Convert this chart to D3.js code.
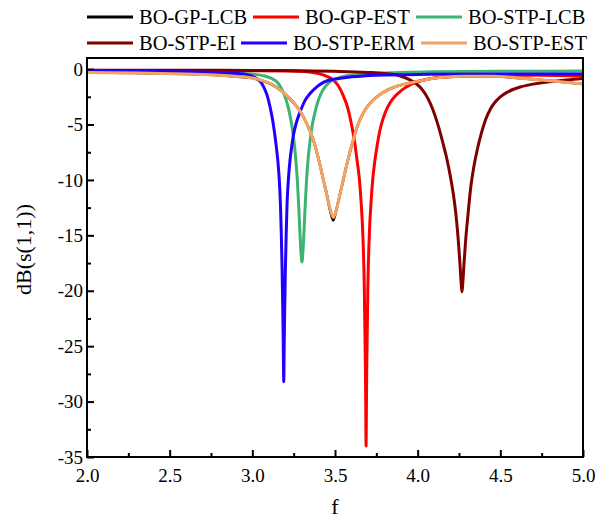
<!DOCTYPE html>
<html>
<head>
<meta charset="utf-8">
<script src="https://cdn.jsdelivr.net/npm/d3@7"></script>
<style>
  html, body { margin: 0; padding: 0; background: #fff; }
  svg { display: block; }
  svg text { font-family: "Liberation Serif", "Times New Roman", "DejaVu Serif", serif; }
</style>
</head>
<body>
<svg id="chart" width="596" height="522"></svg>
<script>
// ---- data (f, dB) ----
const seriesNames = ["BO-GP-LCB", "BO-GP-EST", "BO-STP-LCB", "BO-STP-EI", "BO-STP-ERM", "BO-STP-EST"];
const seriesColors = ["#000000", "#ff0000", "#3cb371", "#800000", "#2200ff", "#f4a460"];

const gpLcb = [[2.0,-0.3],[2.3,-0.35],[2.6,-0.45],[2.8,-0.55],[2.93,-0.7],[3.0,-0.8],[3.05,-1.0],[3.107,-1.3],[3.17,-1.9],[3.228,-2.7],[3.27,-3.4],[3.309,-4.3],[3.34,-5.3],[3.369,-6.4],[3.39,-7.5],[3.41,-8.7],[3.43,-10.0],[3.45,-11.3],[3.465,-12.4],[3.48,-13.3],[3.489,-13.65],[3.498,-13.3],[3.513,-12.4],[3.53,-11.3],[3.55,-10.0],[3.57,-8.7],[3.59,-7.5],[3.61,-6.4],[3.631,-5.35],[3.65,-4.6],[3.67,-4.0],[3.69,-3.5],[3.712,-3.1],[3.75,-2.55],[3.792,-2.1],[3.83,-1.8],[3.873,-1.55],[3.954,-1.25],[4.05,-0.95],[4.14,-0.75],[4.3,-0.65],[4.45,-0.65],[4.6,-0.8],[4.8,-1.05],[5.0,-1.35]];

const gpEst = [[2.0,-0.15],[2.5,-0.15],[3.0,-0.15],[3.2,-0.18],[3.33,-0.25],[3.40,-0.4],[3.45,-0.65],[3.49,-1.0],[3.52,-1.5],[3.55,-2.4],[3.575,-3.4],[3.59,-4.3],[3.605,-5.4],[3.621,-6.8],[3.634,-8.3],[3.648,-10.0],[3.658,-12.0],[3.668,-14.8],[3.677,-19.5],[3.684,-27.0],[3.686,-30.5],[3.688,-34.0],[3.690,-30.5],[3.692,-27.0],[3.699,-19.5],[3.708,-14.8],[3.718,-12.0],[3.728,-10.0],[3.74,-8.4],[3.755,-6.9],[3.772,-5.5],[3.79,-4.5],[3.81,-3.7],[3.835,-3.0],[3.863,-2.45],[3.9,-1.95],[3.934,-1.6],[3.97,-1.32],[4.01,-1.1],[4.07,-0.88],[4.15,-0.73],[4.3,-0.62],[4.5,-0.55],[4.75,-0.55],[5.0,-0.62]];

const stpLcb = [[2.0,-0.2],[2.5,-0.25],[2.8,-0.32],[3.0,-0.45],[3.08,-0.65],[3.13,-0.95],[3.16,-1.35],[3.181,-1.9],[3.205,-2.8],[3.221,-3.7],[3.238,-5.0],[3.251,-6.4],[3.262,-8.0],[3.272,-10.0],[3.28,-12.2],[3.288,-14.8],[3.294,-16.5],[3.30,-17.4],[3.306,-16.5],[3.312,-14.8],[3.32,-12.2],[3.328,-10.0],[3.338,-8.0],[3.349,-6.5],[3.362,-5.1],[3.379,-3.9],[3.395,-3.0],[3.419,-2.1],[3.44,-1.6],[3.47,-1.15],[3.52,-0.8],[3.6,-0.55],[3.8,-0.35],[4.1,-0.25],[4.5,-0.2],[5.0,-0.18]];

const stpEi = [[2.0,-0.1],[2.5,-0.1],[3.0,-0.12],[3.3,-0.15],[3.5,-0.2],[3.7,-0.3],[3.8,-0.4],[3.89,-0.6],[3.95,-0.95],[3.99,-1.3],[4.03,-1.9],[4.06,-2.6],[4.085,-3.4],[4.105,-4.2],[4.13,-5.4],[4.155,-6.8],[4.178,-8.2],[4.198,-9.7],[4.216,-11.3],[4.232,-13.2],[4.246,-15.5],[4.256,-17.6],[4.263,-19.3],[4.268,-20.1],[4.273,-19.3],[4.28,-17.6],[4.29,-15.5],[4.304,-13.2],[4.32,-10.8],[4.34,-8.8],[4.36,-7.3],[4.385,-5.8],[4.41,-4.6],[4.44,-3.6],[4.47,-2.95],[4.5,-2.5],[4.54,-2.1],[4.58,-1.82],[4.62,-1.62],[4.66,-1.47],[4.73,-1.28],[4.8,-1.14],[4.9,-0.98],[5.0,-0.85]];

const stpErm = [[2.0,-0.18],[2.3,-0.2],[2.6,-0.25],[2.8,-0.3],[2.9,-0.38],[2.97,-0.5],[3.02,-0.8],[3.05,-1.15],[3.07,-1.65],[3.09,-2.4],[3.107,-3.4],[3.125,-4.8],[3.145,-7.0],[3.155,-8.4],[3.163,-10.0],[3.17,-12.2],[3.175,-14.8],[3.18,-18.0],[3.184,-21.5],[3.187,-24.5],[3.19,-28.2],[3.193,-24.5],[3.196,-21.5],[3.20,-18.0],[3.205,-14.8],[3.21,-12.2],[3.218,-10.0],[3.228,-8.2],[3.238,-7.0],[3.248,-6.0],[3.265,-4.9],[3.288,-3.9],[3.32,-2.8],[3.349,-2.2],[3.39,-1.6],[3.43,-1.2],[3.5,-0.9],[3.6,-0.7],[3.75,-0.55],[4.0,-0.48],[4.5,-0.45],[5.0,-0.45]];

const stpEst = [[2.0,-0.3],[2.3,-0.35],[2.6,-0.45],[2.8,-0.55],[2.93,-0.7],[3.0,-0.8],[3.05,-1.0],[3.107,-1.3],[3.17,-1.9],[3.228,-2.7],[3.27,-3.4],[3.309,-4.3],[3.34,-5.3],[3.369,-6.4],[3.39,-7.5],[3.41,-8.7],[3.43,-10.0],[3.45,-11.3],[3.465,-12.3],[3.48,-13.1],[3.49,-13.4],[3.50,-13.1],[3.515,-12.3],[3.53,-11.3],[3.55,-10.0],[3.57,-8.7],[3.59,-7.5],[3.61,-6.4],[3.631,-5.35],[3.65,-4.6],[3.67,-4.0],[3.69,-3.5],[3.712,-3.1],[3.75,-2.55],[3.792,-2.1],[3.83,-1.8],[3.873,-1.55],[3.954,-1.25],[4.05,-0.95],[4.14,-0.75],[4.3,-0.65],[4.45,-0.65],[4.6,-0.8],[4.8,-1.05],[5.0,-1.35]];

const seriesData = [gpLcb, gpEst, stpLcb, stpEi, stpErm, stpEst];

const xTicks = [2.0, 2.5, 3.0, 3.5, 4.0, 4.5, 5.0];
const yTicks = [0, -5, -10, -15, -20, -25, -30, -35];

// ---- layout ----
const W = 596, H = 522;
const m = { left: 87, right: 13, top: 58, bottom: 65 };
const FONT = "'Liberation Serif', 'Times New Roman', 'DejaVu Serif', serif";
const svg = d3.select("#chart");

const x = d3.scaleLinear().domain([2.0, 5.0]).range([m.left, W - m.right]);
const y = d3.scaleLinear().domain([-35, 1]).range([H - m.bottom, m.top]);

svg.append("defs").append("clipPath").attr("id", "plotclip")
  .append("rect").attr("x", m.left).attr("y", m.top)
  .attr("width", x.range()[1] - m.left).attr("height", y.range()[0] - m.top);

// curves
const line = d3.line().x(d => x(d[0])).y(d => y(d[1])).curve(d3.curveMonotoneX);
const g = svg.append("g").attr("clip-path", "url(#plotclip)");
seriesData.forEach((s, i) => {
  g.append("path").datum(s)
    .attr("d", line)
    .attr("fill", "none")
    .attr("stroke", seriesColors[i])
    .attr("stroke-width", i === 0 ? 2.6 : 3)
    .attr("stroke-linejoin", "round");
});

// axes (ticks inward)
const xAxis = d3.axisBottom(x).tickValues(xTicks).tickFormat(d3.format(".1f")).tickSizeInner(-7).tickSizeOuter(0).tickPadding(12);
const xMinor = d3.axisBottom(x).tickValues(d3.range(2.25, 5, 0.5)).tickFormat("").tickSizeInner(-4).tickSizeOuter(0);
const yAxis = d3.axisLeft(y).tickValues(yTicks).tickFormat(d => d === 0 ? "0" : "-" + Math.abs(d)).tickSizeInner(-7).tickSizeOuter(0).tickPadding(4);
const yMinor = d3.axisLeft(y).tickValues(d3.range(-32.5, 0, 5)).tickFormat("").tickSizeInner(-4).tickSizeOuter(0);

function styleAxis(sel) {
  sel.attr("font-family", FONT);
  sel.select(".domain").remove();
  sel.selectAll(".tick line").attr("stroke", "#000").attr("stroke-width", 2);
  sel.selectAll(".tick text").attr("fill", "#000").attr("font-size", 19).attr("font-family", FONT);
}
svg.append("g").attr("transform", `translate(0,${y(-35)})`).call(xAxis).call(styleAxis);
svg.append("g").attr("transform", `translate(0,${y(-35)})`).call(xMinor).call(styleAxis);
svg.append("g").attr("transform", `translate(${m.left},0)`).call(yAxis).call(styleAxis);
svg.append("g").attr("transform", `translate(${m.left},0)`).call(yMinor).call(styleAxis);

// frame
svg.append("rect")
  .attr("x", m.left).attr("y", m.top)
  .attr("width", x.range()[1] - m.left).attr("height", y.range()[0] - m.top)
  .attr("fill", "none").attr("stroke", "#000").attr("stroke-width", 2);

// axis titles
svg.append("text").attr("x", (m.left + x.range()[1]) / 2).attr("y", 514)
  .attr("text-anchor", "middle").attr("font-size", 22).attr("font-family", FONT).attr("fill", "#000").text("f");
svg.append("text")
  .attr("transform", `translate(31,${(m.top + y.range()[0]) / 2 - 8}) rotate(-90)`)
  .attr("text-anchor", "middle").attr("font-size", 22).attr("font-family", FONT).attr("fill", "#000").text("dB(s(1,1))");

// legend
const legendPos = [[87, 17], [253, 17], [416, 17], [87, 43], [241, 43], [421, 43]];
seriesNames.forEach((name, i) => {
  const [lx, ly] = legendPos[i];
  svg.append("line").attr("x1", lx).attr("x2", lx + 46).attr("y1", ly).attr("y2", ly)
    .attr("stroke", seriesColors[i]).attr("stroke-width", 3);
  svg.append("text").attr("x", lx + 52).attr("y", ly + 7)
    .attr("font-size", 20.5).attr("font-family", FONT).attr("fill", "#000").text(name);
});
</script>
</body>
</html>
